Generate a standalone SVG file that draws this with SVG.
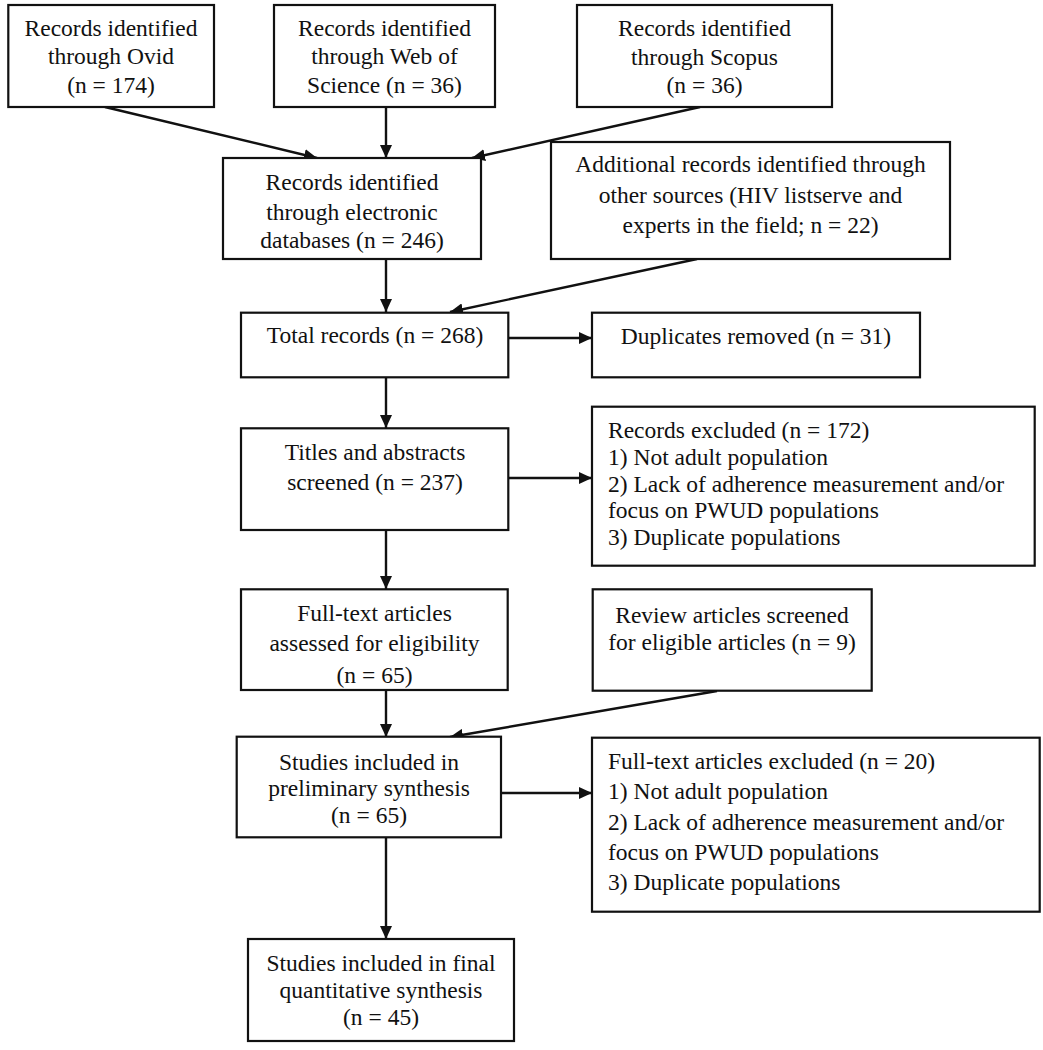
<svg xmlns="http://www.w3.org/2000/svg" width="1043" height="1050" viewBox="0 0 1043 1050">
<style>
.box{fill:#fff;stroke:#111;stroke-width:2.2}
text{font-family:"Liberation Serif","Times New Roman",serif;font-size:23.5px;fill:#111}
.c{text-anchor:middle}
.l{text-anchor:start}
.conn line{stroke:#111;stroke-width:2.4}
</style>
<defs>
<marker id="ah" markerUnits="userSpaceOnUse" markerWidth="14" markerHeight="12" refX="13" refY="6" orient="auto">
<path d="M0,0 L13,6 L0,12 z" fill="#111"/>
</marker>
</defs>
<rect width="1043" height="1050" fill="#fff"/>
<g id="connectors" class="conn">
<line x1="105" y1="107" x2="317" y2="158" marker-end="url(#ah)"/>
<line x1="386" y1="107" x2="386" y2="158" marker-end="url(#ah)"/>
<line x1="700" y1="107" x2="472" y2="158" marker-end="url(#ah)"/>
<line x1="386" y1="259" x2="386" y2="312" marker-end="url(#ah)"/>
<line x1="697" y1="259" x2="450" y2="312" marker-end="url(#ah)"/>
<line x1="508" y1="338" x2="592" y2="338" marker-end="url(#ah)"/>
<line x1="386" y1="377" x2="386" y2="428" marker-end="url(#ah)"/>
<line x1="508" y1="478" x2="592" y2="478" marker-end="url(#ah)"/>
<line x1="386" y1="530" x2="386" y2="589" marker-end="url(#ah)"/>
<line x1="386" y1="690" x2="386" y2="737" marker-end="url(#ah)"/>
<line x1="717" y1="691" x2="450" y2="737" marker-end="url(#ah)"/>
<line x1="501" y1="793" x2="592" y2="793" marker-end="url(#ah)"/>
<line x1="386" y1="837" x2="386" y2="939" marker-end="url(#ah)"/>
</g>
<g id="ovid">
<rect class="box" x="8.3" y="5" width="205.7" height="102"/>
<text class="c" x="111" y="36">Records identified</text>
<text class="c" x="111" y="64">through Ovid</text>
<text class="c" x="111" y="93">(n = 174)</text>
</g>
<g id="wos">
<rect class="box" x="274" y="5" width="221" height="102"/>
<text class="c" x="384.5" y="36">Records identified</text>
<text class="c" x="384.5" y="64">through Web of</text>
<text class="c" x="384.5" y="93">Science (n = 36)</text>
</g>
<g id="scopus">
<rect class="box" x="577" y="5" width="255" height="102"/>
<text class="c" x="704.5" y="36">Records identified</text>
<text class="c" x="704.5" y="65">through Scopus</text>
<text class="c" x="704.5" y="93">(n = 36)</text>
</g>
<g id="electronic">
<rect class="box" x="223" y="158" width="258" height="101"/>
<text class="c" x="352" y="190">Records identified</text>
<text class="c" x="352" y="219.5">through electronic</text>
<text class="c" x="352" y="248">databases (n = 246)</text>
</g>
<g id="additional">
<rect class="box" x="551" y="142" width="399" height="117"/>
<text class="c" x="750.5" y="172">Additional records identified through</text>
<text class="c" x="750.5" y="203">other sources (HIV listserve and</text>
<text class="c" x="750.5" y="233">experts in the field; n = 22)</text>
</g>
<g id="total">
<rect class="box" x="241" y="312.7" width="267.3" height="64.6"/>
<text class="c" x="375" y="343">Total records (n = 268)</text>
</g>
<g id="duplicates">
<rect class="box" x="592" y="312.7" width="328" height="64.6"/>
<text class="c" x="756" y="344">Duplicates removed (n = 31)</text>
</g>
<g id="titles">
<rect class="box" x="241" y="428.3" width="267.3" height="101.7"/>
<text class="c" x="375" y="460">Titles and abstracts</text>
<text class="c" x="375" y="490">screened (n = 237)</text>
</g>
<g id="records-excluded">
<rect class="box" x="592" y="406.7" width="442.7" height="159"/>
<text class="l" x="608" y="438">Records excluded (n = 172)</text>
<text class="l" x="608" y="465">1) Not adult population</text>
<text class="l" x="608" y="491.5">2) Lack of adherence measurement and/or</text>
<text class="l" x="608" y="518">focus on PWUD populations</text>
<text class="l" x="608" y="544.5">3) Duplicate populations</text>
</g>
<g id="fulltext-assessed">
<rect class="box" x="241" y="589.3" width="266.7" height="100.7"/>
<text class="c" x="374.5" y="621">Full-text articles</text>
<text class="c" x="374.5" y="651">assessed for eligibility</text>
<text class="c" x="374.5" y="683">(n = 65)</text>
</g>
<g id="review">
<rect class="box" x="592.7" y="589.3" width="279" height="101.4"/>
<text class="c" x="732" y="623">Review articles screened</text>
<text class="c" x="732" y="650">for eligible articles (n = 9)</text>
</g>
<g id="preliminary">
<rect class="box" x="236.7" y="736.7" width="264.3" height="100.6"/>
<text class="c" x="369" y="770">Studies included in</text>
<text class="c" x="369" y="796">preliminary synthesis</text>
<text class="c" x="369" y="823">(n = 65)</text>
</g>
<g id="fulltext-excluded">
<rect class="box" x="592" y="737.7" width="447.7" height="174"/>
<text class="l" x="608" y="769">Full-text articles excluded (n = 20)</text>
<text class="l" x="608" y="799">1) Not adult population</text>
<text class="l" x="608" y="829.5">2) Lack of adherence measurement and/or</text>
<text class="l" x="608" y="859.5">focus on PWUD populations</text>
<text class="l" x="608" y="889.5">3) Duplicate populations</text>
</g>
<g id="final">
<rect class="box" x="248" y="939" width="266" height="102"/>
<text class="c" x="381" y="971">Studies included in final</text>
<text class="c" x="381" y="998">quantitative synthesis</text>
<text class="c" x="381" y="1025">(n = 45)</text>
</g>
</svg>
